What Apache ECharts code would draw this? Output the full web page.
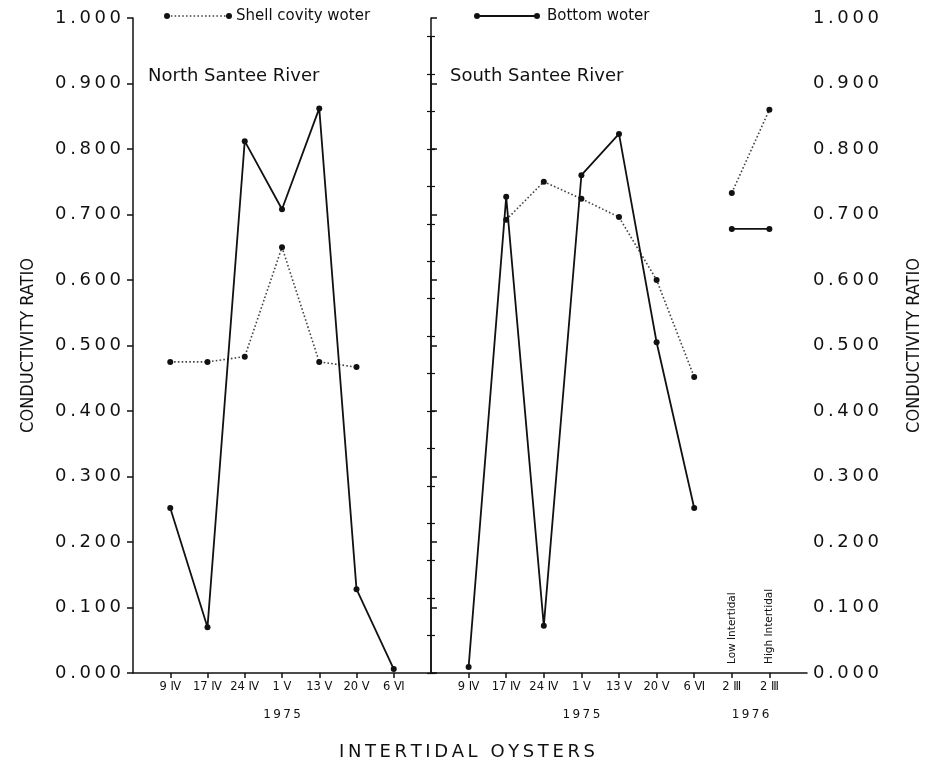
<!DOCTYPE html>
<html>
<head>
<meta charset="utf-8">
<script src="https://cdn.jsdelivr.net/npm/echarts@6/dist/echarts.min.js"></script>
<style>
  html, body { margin: 0; padding: 0; background: #fff; }
  #chart { width: 930px; height: 762px; }
</style>
</head>
<body>
<div id="chart"></div>
<script>
// Sampling dates (day + roman month) and conductivity ratios
const northDates  = ['9 Ⅳ', '17 Ⅳ', '24 Ⅳ', '1 Ⅴ', '13 Ⅴ', '20 Ⅴ', '6 Ⅵ'];
const northShell  = [0.475, 0.475, 0.483, 0.650, 0.475, 0.467, null];
const northBottom = [0.252, 0.070, 0.812, 0.708, 0.862, 0.128, 0.006];

const southDates  = ['9 Ⅳ', '17 Ⅳ', '24 Ⅳ', '1 Ⅴ', '13 Ⅴ', '20 Ⅴ', '6 Ⅵ'];
const southShell  = [null, 0.692, 0.750, 0.724, 0.696, 0.600, 0.452];
const southBottom = [0.009, 0.727, 0.072, 0.760, 0.823, 0.505, 0.252];

const tidalDates  = ['2 Ⅲ', '2 Ⅲ'];
const tidalNames  = ['Low Intertidal', 'High Intertidal'];
const tidalShell  = [0.733, 0.860];
const tidalBottom = [0.678, 0.678];

const northYears = [{ at: 4, text: '1975' }];
const southYears = [{ at: 4, text: '1975' }, { at: 8.5, text: '1976' }];

const yMin = 0, yMax = 1, yStep = 0.1;

const INK = '#111';
const DIGIT_FONT = 'DejaVu Sans';
const spaced = s => String(s).split('').join('\u2009');

const northLabels = ['', ...northDates, ''];
const southLabels = ['', ...southDates, ...tidalDates, ''];
const allNorthPos = northDates.map((_, i) => i + 1);
const allSouthPos = southLabels.map((_, i) => i).slice(1, -1);

const pairs = (vals, offset) => vals.map((v, i) => [i + offset, v]);

function lineSeries(xIdx, yIdx, data, dotted) {
  return {
    type: 'line',
    xAxisIndex: xIdx,
    yAxisIndex: yIdx,
    data: data,
    symbol: 'circle',
    symbolSize: 6,
    connectNulls: false,
    itemStyle: { color: INK },
    lineStyle: dotted
      ? { color: '#444', width: 1.6, type: [1.6, 2.2] }
      : { color: INK, width: 1.8 },
    emphasis: { disabled: true },
    animation: false,
    z: dotted ? 3 : 4
  };
}

const dateAxis = (gridIndex, max, positions, labels) => ({
  type: 'value', gridIndex, min: 0, max, interval: 1,
  axisLine: { show: true, lineStyle: { color: INK, width: 1.5 } },
  splitLine: { show: false },
  axisTick: { show: true, customValues: positions, length: 5, lineStyle: { color: INK, width: 1.5 } },
  axisLabel: {
    customValues: positions, margin: 8,
    formatter: v => labels[v] || '',
    color: INK, fontFamily: DIGIT_FONT, fontSize: 11.5
  }
});

const yearAxis = (gridIndex, max, years) => ({
  type: 'value', gridIndex, min: 0, max, position: 'bottom',
  axisLine: { show: false }, axisTick: { show: false }, splitLine: { show: false },
  axisLabel: {
    customValues: years.map(y => y.at), margin: 36,
    formatter: v => spaced((years.find(y => Math.abs(y.at - v) < 1e-6) || {}).text || ''),
    color: INK, fontFamily: DIGIT_FONT, fontSize: 12
  }
});

const ratioAxis = (gridIndex, position) => ({
  type: 'value', gridIndex, position, min: yMin, max: yMax, interval: yStep,
  name: 'CONDUCTIVITY RATIO',
  nameLocation: 'middle', nameRotate: 90,
  nameGap: position === 'left' ? 96 : 98,
  nameTextStyle: { color: INK, fontFamily: 'Liberation Sans Narrow, DejaVu Sans Condensed, sans-serif', fontSize: 18 },
  axisLine: { show: true, lineStyle: { color: INK, width: 1.5 } },
  axisTick: { show: true, length: 6, lineStyle: { color: INK, width: 1.5 } },
  splitLine: { show: false },
  axisLabel: {
    margin: position === 'left' ? 12 : 6,
    formatter: v => spaced(v.toFixed(3)),
    color: INK, fontFamily: DIGIT_FONT, fontSize: 18
  }
});

// Divider between the two river panels, ruled on both sides:
// two thin grids share the line, one carries ticks to the left, one to the right
const dividerStep = 0.4 / 7;
const dividerMax = dividerStep * 17;
const dividerGrid = { left: 431, top: 673 - 655 * dividerMax, width: 0.01, height: 655 * dividerMax };
const dividerAxis = (gridIndex, position, showLine) => ({
  type: 'value', gridIndex, position, min: 0, max: dividerMax, interval: dividerStep,
  axisLine: { show: showLine, lineStyle: { color: INK, width: 1.5 } },
  axisTick: { show: true, length: 4, lineStyle: { color: INK, width: 1.2 } },
  axisLabel: { show: false }, splitLine: { show: false }
});

const option = {
  backgroundColor: '#fff',
  animation: false,
  title: [
    { text: 'North Santee River', left: 143, top: 62,
      textStyle: { color: INK, fontFamily: 'DejaVu Sans', fontWeight: 'normal', fontSize: 18 } },
    { text: 'South Santee River', left: 445, top: 62,
      textStyle: { color: INK, fontFamily: 'DejaVu Sans', fontWeight: 'normal', fontSize: 18 } },
    { text: spaced('INTERTIDAL OYSTERS'), left: 462, textAlign: 'center', top: 738,
      textStyle: { color: INK, fontFamily: 'DejaVu Sans', fontWeight: 'normal', fontSize: 18 } }
  ],
  grid: [
    { left: 133, top: 18, width: 298, height: 655 },
    { left: 431, top: 18, width: 376, height: 655 },
    dividerGrid,
    Object.assign({}, dividerGrid)
  ],
  xAxis: [
    dateAxis(0, 8, allNorthPos, northLabels),
    dateAxis(1, 10, allSouthPos, southLabels),
    { type: 'value', gridIndex: 2, show: false, min: 0, max: 1 },
    { type: 'value', gridIndex: 3, show: false, min: 0, max: 1 },
    yearAxis(0, 8, northYears),
    yearAxis(1, 10, southYears)
  ],
  yAxis: [
    ratioAxis(0, 'left'),
    ratioAxis(1, 'right'),
    dividerAxis(2, 'left', true),
    dividerAxis(3, 'right', false)
  ],
  series: [
    lineSeries(0, 0, pairs(northShell, 1), true),
    lineSeries(0, 0, pairs(northBottom, 1), false),
    lineSeries(1, 1, pairs(southShell, 1), true),
    lineSeries(1, 1, pairs(southBottom, 1), false),
    lineSeries(1, 1, pairs(tidalShell, southDates.length + 1), true),
    lineSeries(1, 1, pairs(tidalBottom, southDates.length + 1), false)
  ]
};

const chart = echarts.init(document.getElementById('chart'), null, { renderer: 'canvas' });
chart.setOption(option);

// Legend keys and vertical station labels
const legendKey = (x0, x1, y, dotted) => ([
  { type: 'line', shape: { x1: x0, y1: y, x2: x1, y2: y },
    style: { stroke: dotted ? '#444' : INK, lineWidth: dotted ? 1.6 : 1.8, lineDash: dotted ? [1.6, 2.2] : null } },
  { type: 'circle', shape: { cx: x0, cy: y, r: 3 }, style: { fill: INK } },
  { type: 'circle', shape: { cx: x1, cy: y, r: 3 }, style: { fill: INK } }
]);

const stationLabels = tidalNames.map((name, i) => {
  const [px] = chart.convertToPixel({ xAxisIndex: 1, yAxisIndex: 1 }, [southDates.length + 1 + i, 0]);
  return {
    type: 'text', x: px, y: 664, rotation: Math.PI / 2,
    style: { text: name, fill: INK, font: '10.5px DejaVu Sans', align: 'left', verticalAlign: 'middle' }
  };
});

chart.setOption({
  graphic: [
    ...legendKey(167, 229, 16, true),
    { type: 'text', x: 236, y: 16,
      style: { text: 'Shell covity woter', fill: INK, font: '15px DejaVu Sans', verticalAlign: 'middle' } },
    ...legendKey(477, 537, 16, false),
    { type: 'text', x: 547, y: 16,
      style: { text: 'Bottom woter', fill: INK, font: '15px DejaVu Sans', verticalAlign: 'middle' } },
    ...stationLabels
  ]
});
</script>
</body>
</html>
